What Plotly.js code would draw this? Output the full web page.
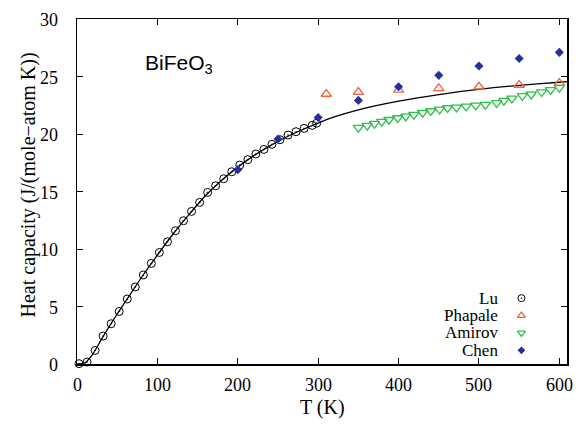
<!DOCTYPE html>
<html><head><meta charset="utf-8">
<script src="https://cdn.plot.ly/plotly-3.0.1.min.js"></script>
<style>html,body{margin:0;padding:0;background:#fff}#chart{width:582px;height:427px}</style>
</head><body><div id="chart"></div>
<script>
// ---- data ----
const luT = [2.5,12.5,22.5,32.5,42.5,52.5,62.5,72.5,82.5,92.5,102.5,112.5,122.5,132.5,142.5,152.5,162.5,172.5,182.5,192.5,202.5,212.5,222.5,232.5,242.5,252.5,262.5,272.5,282.5,292.5,298.15];
const luCp = [0.03,0.17,1.18,2.43,3.5,4.57,5.65,6.7,7.74,8.75,9.7,10.63,11.59,12.46,13.27,14.05,14.92,15.5,16.11,16.72,17.3,17.77,18.26,18.66,19.1,19.5,19.91,20.2,20.49,20.75,20.94];
const phT = [310,350,400,450,500,550,600];
const phCp = [23.48,23.65,23.83,23.97,24.11,24.26,24.43];
const amT = [350,361,370,379,388,399,409,419,430,440,451,461,472,484,496,508,522,531,541,554,565,578,589,600];
const amCp = [20.55,20.72,20.9,21.07,21.24,21.39,21.53,21.68,21.85,22.0,22.14,22.26,22.31,22.4,22.49,22.55,22.7,22.9,23.1,23.31,23.45,23.65,23.83,24.03];
const chT = [200,250,300,350,400,450,500,550,600];
const chCp = [16.9,19.57,21.44,22.92,24.11,25.1,25.91,26.57,27.1];
const fitT = [0,10,20,30,40,50,60,80,100,120,140,160,180,200,220,240,260,280,300,320,350,400,450,500,550,600,610];
const fitCp = [0,0.1,0.9,2.1,3.25,4.35,5.4,7.5,9.47,11.35,13.05,14.65,15.98,17.12,18.12,18.97,19.72,20.37,20.95,21.48,22.1,22.85,23.43,23.88,24.23,24.5,24.55];
const seriesNames = ['Lu','Phapale','Amirov','Chen'];
const xTicks = [0,100,200,300,400,500,600];
const yTicks = [0,5,10,15,20,25,30];
const xTitle = 'T (K)';
const yTitle = 'Heat capacity (J/(mole\u2212atom K))';

// ---- styles ----
const styles = [
  {symbol:'circle-open-dot', color:'#000000', size:8, lsize:7, lw:1},
  {symbol:'triangle-up-open', color:'#f4603c', size:9, lsize:7, lw:1.3},
  {symbol:'triangle-down-open', color:'#2fbf4a', size:9, lsize:7, lw:1.3},
  {symbol:'diamond', color:'#26329a', size:7, lsize:6, lw:0}
];
const xs = [luT, phT, amT, chT];
const ys = [luCp, phCp, amCp, chCp];
const serif = 'Liberation Serif, Times New Roman, serif';

const traces = [{x:fitT, y:fitCp, mode:'lines', line:{color:'#000', width:1.3, shape:'spline', smoothing:0.8}, showlegend:false, hoverinfo:'skip'}];
for (let i=0;i<4;i++){
  traces.push({x:xs[i], y:ys[i], mode:'markers', name:seriesNames[i], showlegend:false, cliponaxis:false,
    marker:{symbol:styles[i].symbol, size:styles[i].size, color:styles[i].color, line:{color:styles[i].color, width:styles[i].lw}}});
}
// custom legend (symbol right of text), placed on an overlay axis in [0,1]
const legX = 0.907, legTextX = 0.862, legY0 = 0.191, legDY = 0.0505;
const annotations = [];
for (let i=0;i<4;i++){
  const yy = legY0 - i*legDY;
  traces.push({x:[legX], y:[yy], xaxis:'x2', yaxis:'y2', mode:'markers', showlegend:false, hoverinfo:'skip',
    marker:{symbol:styles[i].symbol, size:styles[i].lsize, color:styles[i].color, line:{color:styles[i].color, width:styles[i].lw}}});
  annotations.push({xref:'paper', yref:'paper', x:legTextX, y:yy, xanchor:'right', yanchor:'middle', text:seriesNames[i], showarrow:false,
    borderpad:0, font:{family:serif, size:17, color:'#000'}});
}
// tick labels (placed off the axis like the reference)
xTicks.forEach(v => annotations.push({xref:'x', yref:'paper', x:v, y:0, yanchor:'middle', xanchor:'center', yshift:-21,
  showarrow:false, text:String(v), borderpad:0, font:{family:serif, size:18, color:'#000'}}));
yTicks.forEach(v => annotations.push({xref:'paper', yref:'y', x:0, y:v, yanchor:'middle', xanchor:'right', xshift:-18, yshift:-1,
  showarrow:false, text:String(v), borderpad:0, font:{family:serif, size:18, color:'#000'}}));
// axis titles
annotations.push({xref:'paper', yref:'paper', x:0.5, y:0, xanchor:'center', yanchor:'middle', yshift:-43, showarrow:false,
  text:xTitle, font:{family:serif, size:20, color:'#000'}});
annotations.push({xref:'paper', yref:'paper', x:0, y:0.5, xanchor:'center', yanchor:'middle', xshift:-49, yshift:6, textangle:-90, showarrow:false,
  text:yTitle, font:{family:serif, size:20, color:'#000'}});
annotations.push({xref:'paper', yref:'paper', x:0.135, y:0.87, xanchor:'left', yanchor:'middle', showarrow:false,
  text:'BiFeO<sub>3</sub>', font:{family:'Liberation Sans, Arial, sans-serif', size:21, color:'#000'}});

const layout = {
  width:582, height:427,
  margin:{l:77, r:15, t:19, b:63},
  paper_bgcolor:'#fff', plot_bgcolor:'#fff',
  font: {family:serif, size:18, color:'#000'},
  xaxis:{range:[0,609.5], tickvals:xTicks, showticklabels:false, ticks:'inside', ticklen:6, tickcolor:'#000', tickwidth:1,
    showline:true, linecolor:'#000', linewidth:1.5, mirror:'ticks', showgrid:false, zeroline:false},
  yaxis:{range:[0,30], tickvals:yTicks, showticklabels:false, ticks:'inside', ticklen:6, tickcolor:'#000', tickwidth:1,
    showline:true, linecolor:'#000', linewidth:1.5, mirror:'ticks', showgrid:false, zeroline:false},
  xaxis2:{overlaying:'x', range:[0,1], visible:false, fixedrange:true},
  yaxis2:{overlaying:'y', anchor:'x2', range:[0,1], visible:false, fixedrange:true},
  annotations: annotations,
  showlegend:false
};
Plotly.newPlot('chart', traces, layout, {displayModeBar:false, staticPlot:true});
</script></body></html>
